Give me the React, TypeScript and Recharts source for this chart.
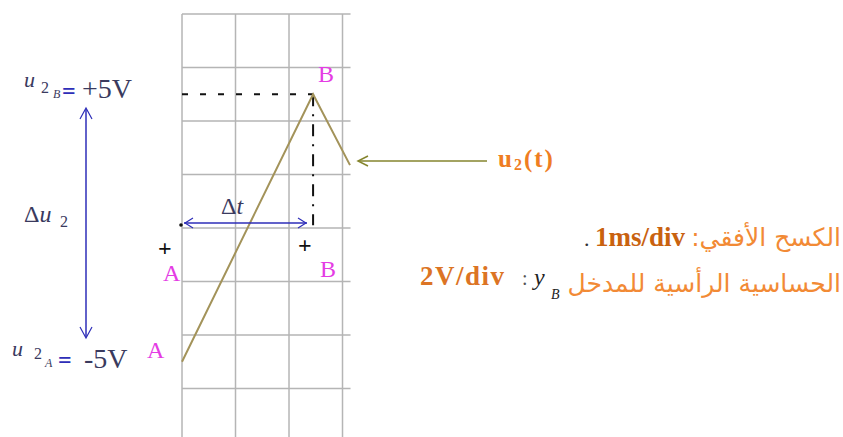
import { ComposedChart, Line, XAxis, YAxis, ReferenceLine } from 'recharts';

// trace u2(t): time in ms, voltage in V
const TIME_MS = [0, 2.45, 3.14];
const U2_VOLTS = [-5, 5, 2.35];

// oscilloscope divisions (1ms/div, 2V/div)
const TIME_DIVS = [0, 1, 2, 3];
const VOLT_DIVS = [8, 6, 4, 2, 0, -2, -4, -6];
const SCREEN_END_MS = 3.15;

// screen window visible in the picture
const T_MIN = -3.402;
const T_MAX = 12.355;
const U_MIN = -7.813;
const U_MAX = 8.523;

const W = 843;
const H = 437;

const traceData = TIME_MS.map((t, i) => ({ t, u: U2_VOLTS[i] }));

const serif = '"Liberation Serif", "Times New Roman", "DejaVu Serif", serif';
const arabic = '"DejaVu Sans", "Noto Sans", sans-serif';
const magenta = '#e43ce4';
const blue = '#2e2eb8';
const orange = '#ef7d22';
const lightOrange = '#f28a35';
const ink = '#3a3a5e';

export default function App() {
  return (
    <div style={{ position: 'absolute', left: 0, top: 0, width: W, height: H, background: '#fff' }}>
      <ComposedChart width={W} height={H} data={traceData} margin={{ top: 0, right: 0, bottom: 0, left: 0 }}>
        <XAxis type="number" dataKey="t" domain={[T_MIN, T_MAX]} allowDataOverflow hide />
        <YAxis type="number" domain={[U_MIN, U_MAX]} allowDataOverflow hide />

        {TIME_DIVS.map((t) => (
          <ReferenceLine
            key={'v' + t}
            segment={[{ x: t, y: 8 }, { x: t, y: U_MIN }]}
            stroke="#b5b5b5"
            strokeWidth={1.5}
            ifOverflow="visible"
          />
        ))}
        {VOLT_DIVS.map((v) => (
          <ReferenceLine
            key={'h' + v}
            segment={[{ x: 0, y: v }, { x: SCREEN_END_MS, y: v }]}
            stroke="#b5b5b5"
            strokeWidth={1.5}
            ifOverflow="visible"
          />
        ))}

        {/* guides to point B */}
        <ReferenceLine
          segment={[{ x: 0, y: U2_VOLTS[1] }, { x: TIME_MS[1], y: U2_VOLTS[1] }]}
          stroke="#111"
          strokeWidth={2}
          strokeDasharray="6 12"
          ifOverflow="visible"
        />
        <ReferenceLine
          segment={[{ x: TIME_MS[1], y: U2_VOLTS[1] }, { x: TIME_MS[1], y: 0.1 }]}
          stroke="#111"
          strokeWidth={2}
          strokeDasharray="12 8 2 8"
          ifOverflow="visible"
        />

        <Line
          type="linear"
          dataKey="u"
          stroke="#a3935a"
          strokeWidth={2}
          dot={false}
          activeDot={false}
          isAnimationActive={false}
        />
      </ComposedChart>

      <svg
        width={W}
        height={H}
        style={{ position: 'absolute', left: 0, top: 0, pointerEvents: 'none', fontFamily: serif }}
      >
        {/* u2B = +5V */}
        <text x={24} y={87} fontSize={22} fontStyle="italic" fill={ink}>u</text>
        <text x={41} y={93} fontSize={16} fill={ink}>2</text>
        <text x={53} y={98} fontSize={12} fontStyle="italic" fill={ink}>B</text>
        <text x={62} y={99} fontSize={24} fontWeight="bold" fill={blue}>=</text>
        <text x={82} y={98} fontSize={28} fill={ink}>+5V</text>

        {/* Δu2 arrow */}
        <line x1={86} y1={109} x2={86} y2={337} stroke={blue} strokeWidth={1.5} />
        <polyline points="80,119 86,108 92,119" fill="none" stroke={blue} strokeWidth={1.2} />
        <polyline points="80,327 86,338 92,327" fill="none" stroke={blue} strokeWidth={1.2} />
        <text x={24} y={222} fontSize={24} fill={ink}>
          Δ<tspan fontStyle="italic">u</tspan>
        </text>
        <text x={60} y={227} fontSize={16} fill={ink}>2</text>

        {/* u2A = -5V */}
        <text x={12} y={356} fontSize={22} fontStyle="italic" fill={ink}>u</text>
        <text x={34} y={359} fontSize={16} fill={ink}>2</text>
        <text x={45} y={367} fontSize={12} fontStyle="italic" fill={ink}>A</text>
        <text x={58} y={368} fontSize={24} fontWeight="bold" fill={blue}>=</text>
        <text x={84} y={368} fontSize={28} fill={ink}>-5V</text>

        {/* points A and B */}
        <text x={147} y={358} fontSize={24} fill={magenta}>A</text>
        <text x={163} y={281} fontSize={24} fill={magenta}>A</text>
        <text x={318} y={82} fontSize={24} fill={magenta}>B</text>
        <text x={320} y={277} fontSize={24} fill={magenta}>B</text>
        <text x={158} y={256} fontSize={24} fontWeight="bold" fill="#111">+</text>
        <text x={298} y={253} fontSize={24} fontWeight="bold" fill="#111">+</text>
        <circle cx={181} cy={225} r={1.8} fill="#111" />

        {/* Δt arrow */}
        <line x1={184} y1={223} x2={307} y2={223} stroke={blue} strokeWidth={1.5} />
        <polyline points="193,218 185,223 193,228" fill="none" stroke={blue} strokeWidth={1.2} />
        <polyline points="298,218 306,223 298,228" fill="none" stroke={blue} strokeWidth={1.2} />
        <text x={221} y={214} fontSize={24} fill={ink}>
          Δ<tspan fontStyle="italic">t</tspan>
        </text>

        {/* u2(t) pointer */}
        <line x1={358} y1={161} x2={487} y2={161} stroke="#85852e" strokeWidth={1.5} />
        <polyline points="368,156 358,161 368,166" fill="none" stroke="#85852e" strokeWidth={1.5} />
        <text x={498} y={167} fontSize={25} fontWeight="bold" fill={orange} letterSpacing={2}>
          u<tspan fontSize={16} dy={3}>2</tspan>
          <tspan dy={-3}>(t)</tspan>
        </text>

        {/* settings */}
        <text x={584} y={246} fontSize={22} fill="#333">.</text>
        <text x={595} y={246} fontSize={27} fontWeight="bold" fill="#c9620f">1ms/div</text>
        <text x={841} y={246} fontSize={25} fill={lightOrange} textAnchor="end" style={{ fontFamily: arabic }}>
          :الكسح الأفقي
        </text>

        <text x={420} y={285} fontSize={27} fontWeight="bold" fill="#dc7424" letterSpacing={1.5}>
          2V/div
        </text>
        <text x={522} y={285} fontSize={20} fill="#555">:</text>
        <text x={534} y={285} fontSize={24} fontStyle="italic" fill="#222">y</text>
        <text x={551} y={299} fontSize={14} fontStyle="italic" fill="#222">B</text>
        <text x={841} y={292} fontSize={25} fill={lightOrange} textAnchor="end" style={{ fontFamily: arabic }}>
          الحساسية الرأسية للمدخل
        </text>
      </svg>
    </div>
  );
}
